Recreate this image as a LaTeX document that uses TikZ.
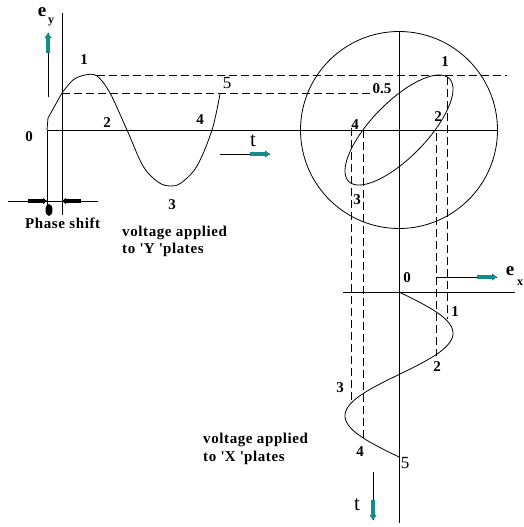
\documentclass[tikz,border=0pt]{standalone}
\usepackage{fontspec}
\setmainfont{Liberation Serif}
\newfontfamily\spacedserif[LetterSpace=4]{Liberation Serif}
\usetikzlibrary{calc,arrows.meta}
\definecolor{arrteal}{RGB}{20,140,140}
\newcommand\lblfont{\fontsize{15}{17}\selectfont\bfseries}
\newcommand\txtfont{\spacedserif\fontsize{15}{17}\selectfont\bfseries}
\tikzset{
  axis/.style={line width=0.9pt},
  curve/.style={line width=0.8pt},
  dashline/.style={line width=0.8pt, dash pattern=on 8pt off 4pt},
  tealhead/.style={arrteal, line width=3.5pt, -{Triangle[length=5pt,width=7pt]}},
  blackhead/.style={black, line width=3.5pt, -{Triangle[length=4pt,width=6pt]}},
  lbl/.style={font=\lblfont, inner sep=0pt},
  txt/.style={font=\txtfont, inner sep=0pt, anchor=west},
  tlbl/.style={font=\fontsize{21}{21}\selectfont, inner sep=0pt},
  elbl/.style={font=\fontsize{19}{19}\selectfont\bfseries, inner sep=0pt},
  sublbl/.style={font=\fontsize{12}{12}\selectfont\bfseries, inner sep=0pt}
}
\begin{document}
\begin{tikzpicture}[x=1pt,y=-1pt]
\useasboundingbox (0,0) rectangle (523,527);

% ---------- left plot (Y voltage) ----------
\coordinate (yaxT) at (62,13);
\coordinate (yaxB) at (62,215);
\coordinate (zeroT) at (47,130);
\coordinate (zeroB) at (47,215);
\coordinate (haxR) at (498,130);
\draw[axis] (yaxT) -- (yaxB);
\draw[axis] (zeroT) -- (zeroB);
\draw[axis] (zeroT) -- (haxR);

% e_y arrow
\coordinate (eyA) at (48,97);
\coordinate (eyB) at (48,33);
\draw[axis] (eyA) -- (eyB);
\draw[tealhead] ($(eyB)!20pt!(eyA)$) -- (eyB);
\node[elbl] (ey) at (42,12) {e};
\node[sublbl] (eysub) at (51,22) {y};

% t arrow
\coordinate (tA) at (220,154);
\coordinate (tB) at (270,154);
\draw[axis] (tA) -- (tB);
\draw[tealhead] ($(tB)!20pt!(tA)$) -- (tB);
\node[tlbl] (tl) at (253,141) {t};

% sine curve
\draw[curve] (47,130) -- (48,118) -- (62,93)
  plot[smooth, tension=0.55] coordinates {(62,93) (73,80) (85,75) (97,76) (110,93) (127,130) (143,166) (158,182) (170,186) (181,183) (197,166) (212,130) (220,94)};

% labels left
\node[lbl] (l0) at (29,137) {0};
\node[lbl] (l1) at (84,60) {1};
\node[lbl] (l2) at (107,123) {2};
\node[lbl] (l3) at (172,205) {3};
\node[lbl] (l4) at (200,120) {4};
\node[font=\fontsize{17}{17}\selectfont, inner sep=0pt] (l5) at (227,83) {5};

% phase shift
\coordinate (psL) at (8,201);
\coordinate (psR) at (98,201);
\draw[axis] (psL) -- (psR);
\coordinate (paA) at (28,201);
\coordinate (paB) at (47,201);
\draw[blackhead] (paA) -- (paB);
\coordinate (pbA) at (81,201);
\coordinate (pbB) at (62,201);
\draw[blackhead] (pbA) -- (pbB);
\fill (49,210) ellipse[x radius=3.5pt, y radius=6pt];
\node[txt] (ps) at (25,223) {Phase shift};

\node[txt] (vy1) at (122,233) {voltage applied};
\node[txt] (vy2) at (122,250) {to \textquotesingle Y \textquotesingle plates};

% dashed horizontals
\coordinate (d1L) at (97,75);
\coordinate (d1R) at (507,75);
\coordinate (d2L) at (62,93);
\coordinate (d2R) at (372,93);
\draw[dashline] (d1L) -- (d1R);
\draw[dashline] (d2L) -- (d2R);

% ---------- circle / Lissajous ----------
\coordinate (cen) at (399,130);
\draw[curve] (cen) circle[radius=98.5pt];
\coordinate (vaxT) at (399,32);
\coordinate (vaxB) at (399,523);
\draw[axis] (vaxT) -- (vaxB);
\draw[curve] plot[domain=0:360, samples=120, smooth] ({399+54*sin(\x)}, {130-55*sin(\x+42)});

\node[lbl] (c1) at (445,62) {1};
\node[lbl] (c05) at (382,89) {0.5};
\node[lbl] (c2) at (438,117) {2};
\node[lbl] (c4) at (355,125) {4};
\node[lbl] (c3) at (357,200) {3};

% dashed verticals
\coordinate (v1T) at (447,77);  \coordinate (v1B) at (447,319);
\coordinate (v2T) at (436,133); \coordinate (v2B) at (436,356);
\coordinate (v3T) at (351,128); \coordinate (v3B) at (351,402);
\coordinate (v4T) at (363,130); \coordinate (v4B) at (363,440);
\draw[dashline] (v1T) -- (v1B);
\draw[dashline] (v2T) -- (v2B);
\draw[dashline] (v3T) -- (v3B);
\draw[dashline] (v4T) -- (v4B);

% ---------- bottom plot (X voltage) ----------
\coordinate (bhL) at (343,292);
\coordinate (bhR) at (515,292);
\draw[axis] (bhL) -- (bhR);
\draw[curve] plot[domain=0:165, samples=100, smooth] ({399+54*sin(2.181818*\x)}, {292+\x});

\coordinate (exA) at (436,277);
\coordinate (exB) at (497,277);
\draw[axis] (exA) -- (exB);
\draw[tealhead] ($(exB)!20pt!(exA)$) -- (exB);
\node[elbl] (ex) at (510,271) {e};
\node[sublbl] (exsub) at (520,283) {x};

\coordinate (tbA) at (373,472);
\coordinate (tbB) at (373,520);
\draw[axis] (tbA) -- (tbB);
\draw[tealhead] ($(tbB)!20pt!(tbA)$) -- (tbB);
\node[tlbl] (tb) at (357,505) {t};

\node[lbl] (b0) at (407,278) {0};
\node[lbl] (b1) at (455,312) {1};
\node[lbl] (b2) at (437,367) {2};
\node[lbl] (b3) at (340,388) {3};
\node[lbl] (b4) at (360,452) {4};
\node[font=\fontsize{17}{17}\selectfont, inner sep=0pt] (b5) at (405,463) {5};

\node[txt] (vx1) at (203,440) {voltage applied};
\node[txt] (vx2) at (203,458) {to \textquotesingle X \textquotesingle plates};
\end{tikzpicture}
\end{document}
